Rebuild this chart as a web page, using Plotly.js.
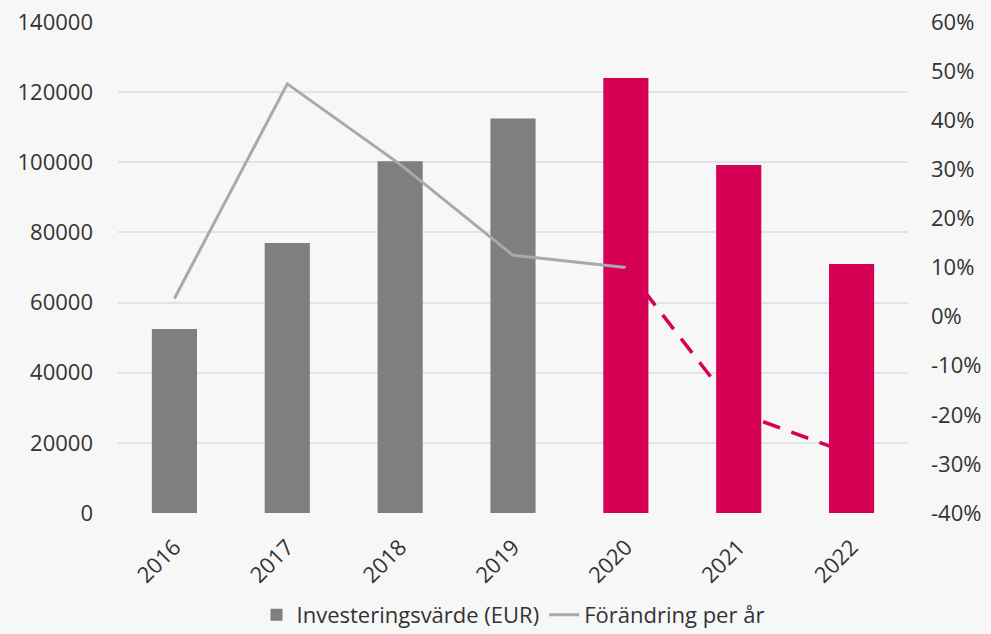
<html><head>
<meta charset="utf-8">
<style>
body { margin: 0; background: #f7f7f7; }
#chart { width: 991px; height: 634px; }
</style>
<script src="https://cdn.plot.ly/plotly-3.0.1.min.js"></script>
</head>
<body>
<div id="chart"></div>
<script>
// values
const years = ['2016', '2017', '2018', '2019', '2020', '2021', '2022'];
const investValue = [52500, 77000, 100300, 112500, 124000, 99200, 71000];
const changePerYear = [0.037, 0.474, 0.31, 0.125, 0.10, -0.196, -0.28];
const yLeftTicks = [0, 20000, 40000, 60000, 80000, 100000, 120000, 140000];
const yRightTicks = [-0.4, -0.3, -0.2, -0.1, 0, 0.1, 0.2, 0.3, 0.4, 0.5, 0.6];
const yRightLabels = ['-40%', '-30%', '-20%', '-10%', '0%', '10%', '20%', '30%', '40%', '50%', '60%'];

const grey = '#7f7f7f';
const pink = '#d60054';
const lineGrey = '#a9a9a9';
const splitIdx = 4; // from 2020 on the figures are drawn in pink

const barColors = years.map((y, i) => i < splitIdx ? grey : pink);

const data = [
  {
    x: years, y: investValue, type: 'bar', name: 'Investeringsvärde (EUR)',
    marker: {color: barColors}, width: 0.4
  },
  {
    x: years.slice(0, splitIdx + 1), y: changePerYear.slice(0, splitIdx + 1),
    type: 'scatter', mode: 'lines', yaxis: 'y2', name: 'Förändring per år',
    line: {color: lineGrey, width: 3}
  },
  {
    x: years.slice(splitIdx), y: changePerYear.slice(splitIdx),
    type: 'scatter', mode: 'lines', yaxis: 'y2', showlegend: false,
    line: {color: pink, width: 3.5, dash: '18px,12px'}
  }
];

const tickFont = {family: 'Open Sans, sans-serif', size: 22, color: '#333333'};

const layout = {
  width: 991, height: 634,
  margin: {l: 118, r: 83, t: 22, b: 121, autoexpand: false},
  paper_bgcolor: '#f7f7f7', plot_bgcolor: '#f7f7f7',
  showlegend: true,
  legend: {
    orientation: 'h', x: 0.5, xanchor: 'center',
    yref: 'container', y: 0.03, yanchor: 'middle',
    font: {family: 'Open Sans, sans-serif', size: 22, color: '#333333'},
    itemwidth: 30, tracegroupgap: 0
  },
  xaxis: {
    tickangle: -45, tickfont: tickFont, showgrid: false, zeroline: false,
    showline: false, ticks: '', automargin: false, ticklabelstandoff: 16
  },
  yaxis: {
    range: [0, 140000], tickvals: yLeftTicks, tickformat: 'd', tickfont: tickFont,
    gridcolor: '#e2e2ea', gridwidth: 1.5, zeroline: false, ticks: '',
    ticklabelstandoff: 24, automargin: false
  },
  yaxis2: {
    overlaying: 'y', side: 'right', range: [-0.4, 0.6],
    tickvals: yRightTicks, ticktext: yRightLabels,
    tickfont: tickFont, showgrid: false, zeroline: false,
    ticklabelstandoff: 22, automargin: false
  }
};

Plotly.newPlot('chart', data, layout, {displayModeBar: false});
</script>
</body></html>
